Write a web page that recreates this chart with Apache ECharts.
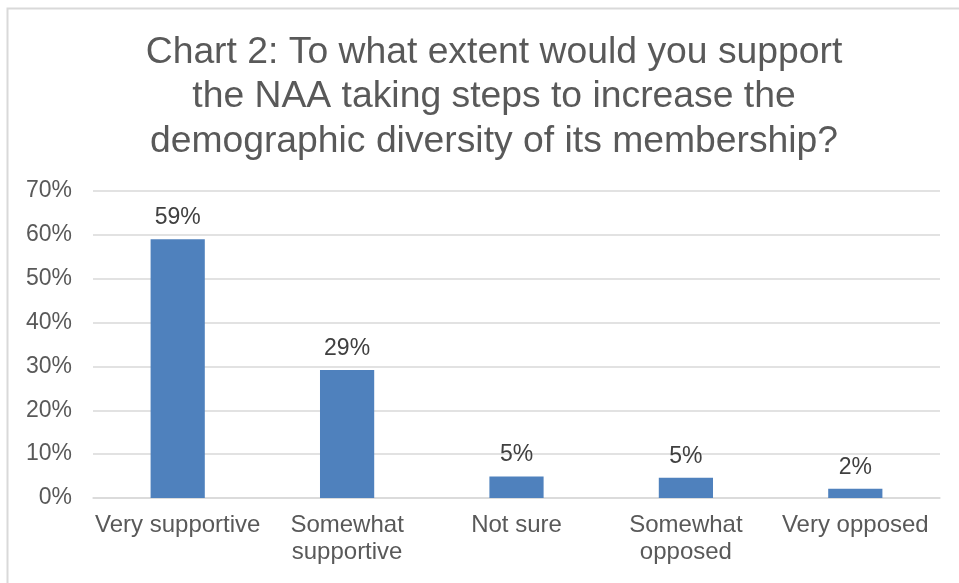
<!DOCTYPE html>
<html>
<head>
<meta charset="utf-8">
<script src="https://cdn.jsdelivr.net/npm/echarts@6/dist/echarts.min.js"></script>
<style>
  html, body { margin: 0; padding: 0; background: #fff; }
  #main { width: 959px; height: 583px; }
</style>
</head>
<body>
<div id="main"></div>
<script>
// chart data
var categories = ['Very supportive', 'Somewhat\nsupportive', 'Not sure', 'Somewhat\nopposed', 'Very opposed'];
var shares = [0.59, 0.292, 0.049, 0.046, 0.021];
var yTicks = [0, 0.1, 0.2, 0.3, 0.4, 0.5, 0.6, 0.7];

var chart = echarts.init(document.getElementById('main'), null, { renderer: 'canvas' });

var font = 'Liberation Sans, Arial, sans-serif';

var option = {
  animation: false,
  title: {
    text: 'Chart 2: To what extent would you support\nthe NAA taking steps to increase the\ndemographic diversity of its membership?',
    left: 489,
    top: 25,
    textAlign: 'center',
    textStyle: {
      color: '#595959',
      fontFamily: font,
      fontWeight: 'normal',
      fontSize: 37.3,
      lineHeight: 44.5
    }
  },
  graphic: [{
    type: 'rect',
    shape: { x: 7.5, y: 8.5, width: 1000, height: 1000 },
    style: { fill: 'none', stroke: '#d9d9d9', lineWidth: 2 },
    silent: true
  }],
  grid: {
    left: 93,
    right: 19,
    top: 191,
    bottom: 85
  },
  xAxis: {
    type: 'category',
    data: categories,
    axisLine: { show: true, lineStyle: { color: '#d9d9d9', width: 1.5 } },
    axisTick: { show: false },
    axisLabel: {
      color: '#595959',
      fontFamily: font,
      fontSize: 24,
      lineHeight: 27,
      margin: 14,
      interval: 0
    }
  },
  yAxis: {
    type: 'value',
    min: yTicks[0],
    max: yTicks[yTicks.length - 1],
    interval: 0.1,
    axisLine: { show: false },
    axisTick: { show: false },
    splitLine: { lineStyle: { color: '#d9d9d9', width: 1.5 } },
    axisLabel: {
      color: '#595959',
      fontFamily: font,
      fontSize: 23,
      margin: 21,
      formatter: function (v) {
        return Math.round(v * 100) + '%';
      }
    }
  },
  series: [{
    type: 'bar',
    data: shares,
    barWidth: '32%',
    itemStyle: { color: '#4f81bd' },
    label: {
      show: true,
      position: 'top',
      distance: 10,
      color: '#404040',
      fontFamily: font,
      fontSize: 23,
      formatter: function (p) {
        return Math.round(p.value * 100) + '%';
      }
    }
  }]
};

chart.setOption(option);
</script>
</body>
</html>
